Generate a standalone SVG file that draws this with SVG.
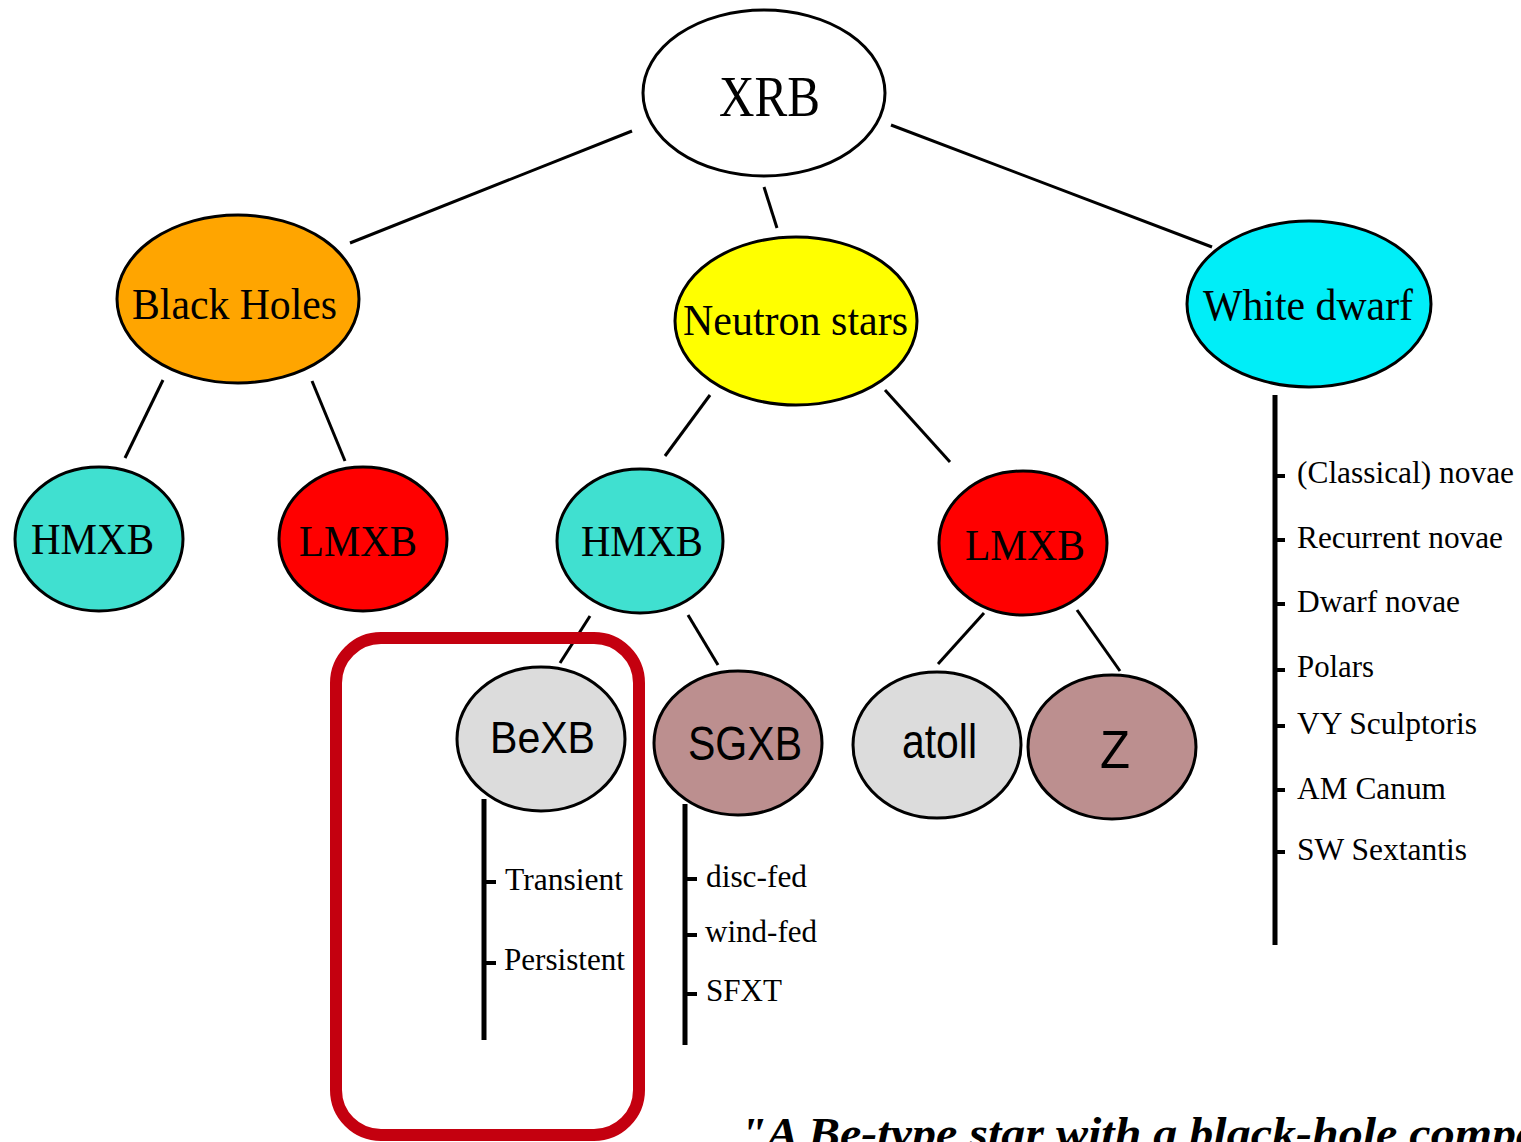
<svg xmlns="http://www.w3.org/2000/svg" width="1521" height="1142" viewBox="0 0 1521 1142">
<style>
.n{stroke:#000;stroke-width:3}
.s{font-family:"Liberation Serif","Times New Roman",serif;fill:#000}
.a{font-family:"Liberation Sans",Arial,sans-serif;fill:#000}
.c line{stroke:#000;stroke-width:3}
.l{stroke:#000;stroke-width:5}
.t{stroke:#000;stroke-width:4}
</style>
<rect width="1521" height="1142" fill="#fff"/>
<g id="connectors" class="c">
<line x1="632" y1="131" x2="350" y2="243"/>
<line x1="764" y1="187" x2="777" y2="228"/>
<line x1="891" y1="125" x2="1212" y2="247"/>
<line x1="163" y1="380" x2="125" y2="458"/>
<line x1="312" y1="381" x2="345" y2="461"/>
<line x1="710" y1="395" x2="665" y2="456"/>
<line x1="885" y1="390" x2="950" y2="462"/>
<line x1="590" y1="616" x2="560" y2="663"/>
<line x1="688" y1="615" x2="718" y2="665"/>
<line x1="984" y1="613" x2="938" y2="664"/>
<line x1="1077" y1="610" x2="1120" y2="671"/>
</g>
<g id="xrb"><ellipse class="n" cx="764" cy="93" rx="121" ry="83" fill="#fff"/><text class="s" x="719" y="116" font-size="56" textLength="101" lengthAdjust="spacingAndGlyphs">XRB</text></g>
<g id="black-holes"><ellipse class="n" cx="238" cy="299" rx="121" ry="84" fill="#FFA500"/><text class="s" x="132" y="319" font-size="44" textLength="205" lengthAdjust="spacingAndGlyphs">Black Holes</text></g>
<g id="neutron-stars"><ellipse class="n" cx="796" cy="321" rx="121" ry="84" fill="#FFFF00"/><text class="s" x="683" y="335" font-size="44" textLength="225" lengthAdjust="spacingAndGlyphs">Neutron stars</text></g>
<g id="white-dwarf"><ellipse class="n" cx="1309" cy="304" rx="122" ry="83" fill="#00EEF8"/><text class="s" x="1203" y="320" font-size="44" textLength="210" lengthAdjust="spacingAndGlyphs">White dwarf</text></g>
<g id="bh-hmxb"><ellipse class="n" cx="99" cy="539" rx="84" ry="72" fill="#40E0D0"/><text class="s" x="31" y="554" font-size="44" textLength="123" lengthAdjust="spacingAndGlyphs">HMXB</text></g>
<g id="bh-lmxb"><ellipse class="n" cx="363" cy="539" rx="84" ry="72" fill="#FF0000"/><text class="s" x="299" y="556" font-size="44" textLength="118" lengthAdjust="spacingAndGlyphs">LMXB</text></g>
<g id="ns-hmxb"><ellipse class="n" cx="640" cy="541" rx="83" ry="72" fill="#40E0D0"/><text class="s" x="581" y="556" font-size="44" textLength="122" lengthAdjust="spacingAndGlyphs">HMXB</text></g>
<g id="ns-lmxb"><ellipse class="n" cx="1023" cy="543" rx="84" ry="72" fill="#FF0000"/><text class="s" x="965" y="560" font-size="44" textLength="120" lengthAdjust="spacingAndGlyphs">LMXB</text></g>
<g id="bexb"><ellipse class="n" cx="541" cy="739" rx="84" ry="72" fill="#DCDCDC"/><text class="a" x="490" y="753" font-size="44" textLength="105" lengthAdjust="spacingAndGlyphs">BeXB</text></g>
<g id="sgxb"><ellipse class="n" cx="738" cy="743" rx="84" ry="72" fill="#BC8F8F"/><text class="a" x="688" y="760" font-size="48" textLength="114" lengthAdjust="spacingAndGlyphs">SGXB</text></g>
<g id="atoll"><ellipse class="n" cx="937" cy="745" rx="84" ry="73" fill="#DCDCDC"/><text class="a" x="902" y="758" font-size="48" textLength="75" lengthAdjust="spacingAndGlyphs">atoll</text></g>
<g id="z"><ellipse class="n" cx="1112" cy="747" rx="84" ry="72" fill="#BC8F8F"/><text class="a" x="1100" y="768" font-size="54" textLength="30" lengthAdjust="spacingAndGlyphs">Z</text></g>
<g id="bexb-list">
<line class="l" x1="484" y1="799" x2="484" y2="1040"/>
<line class="t" x1="484" y1="882" x2="496" y2="882"/>
<line class="t" x1="484" y1="963" x2="496" y2="963"/>
<text class="s" x="505" y="890" font-size="32" textLength="118" lengthAdjust="spacingAndGlyphs">Transient</text>
<text class="s" x="504" y="970" font-size="32" textLength="121" lengthAdjust="spacingAndGlyphs">Persistent</text>
</g>
<g id="sgxb-list">
<line class="l" x1="685" y1="804" x2="685" y2="1045"/>
<line class="t" x1="685" y1="879" x2="697" y2="879"/>
<line class="t" x1="685" y1="935" x2="697" y2="935"/>
<line class="t" x1="685" y1="994" x2="697" y2="994"/>
<text class="s" x="706" y="887" font-size="32" textLength="101" lengthAdjust="spacingAndGlyphs">disc-fed</text>
<text class="s" x="705" y="942" font-size="32" textLength="112" lengthAdjust="spacingAndGlyphs">wind-fed</text>
<text class="s" x="706" y="1001" font-size="32" textLength="76" lengthAdjust="spacingAndGlyphs">SFXT</text>
</g>
<g id="wd-list">
<line class="l" x1="1275" y1="395" x2="1275" y2="945"/>
<line class="t" x1="1275" y1="476" x2="1285" y2="476"/>
<line class="t" x1="1275" y1="540" x2="1285" y2="540"/>
<line class="t" x1="1275" y1="604" x2="1285" y2="604"/>
<line class="t" x1="1275" y1="670" x2="1285" y2="670"/>
<line class="t" x1="1275" y1="726" x2="1285" y2="726"/>
<line class="t" x1="1275" y1="790" x2="1285" y2="790"/>
<line class="t" x1="1275" y1="852" x2="1285" y2="852"/>
<text class="s" x="1297" y="483" font-size="32" textLength="217" lengthAdjust="spacingAndGlyphs">(Classical) novae</text>
<text class="s" x="1297" y="548" font-size="32" textLength="206" lengthAdjust="spacingAndGlyphs">Recurrent novae</text>
<text class="s" x="1297" y="612" font-size="32" textLength="163" lengthAdjust="spacingAndGlyphs">Dwarf novae</text>
<text class="s" x="1297" y="677" font-size="32" textLength="77" lengthAdjust="spacingAndGlyphs">Polars</text>
<text class="s" x="1297" y="734" font-size="32" textLength="180" lengthAdjust="spacingAndGlyphs">VY Sculptoris</text>
<text class="s" x="1297" y="799" font-size="32" textLength="149" lengthAdjust="spacingAndGlyphs">AM Canum</text>
<text class="s" x="1297" y="860" font-size="32" textLength="170" lengthAdjust="spacingAndGlyphs">SW Sextantis</text>
</g>
<rect id="highlight" x="336" y="638" width="303" height="497" rx="45" ry="45" fill="none" stroke="#C4000F" stroke-width="12"/>
<text class="s" x="740" y="1148" font-size="44" font-weight="bold" font-style="italic" textLength="800" lengthAdjust="spacingAndGlyphs">"A Be-type star with a black-hole compa</text>
</svg>
